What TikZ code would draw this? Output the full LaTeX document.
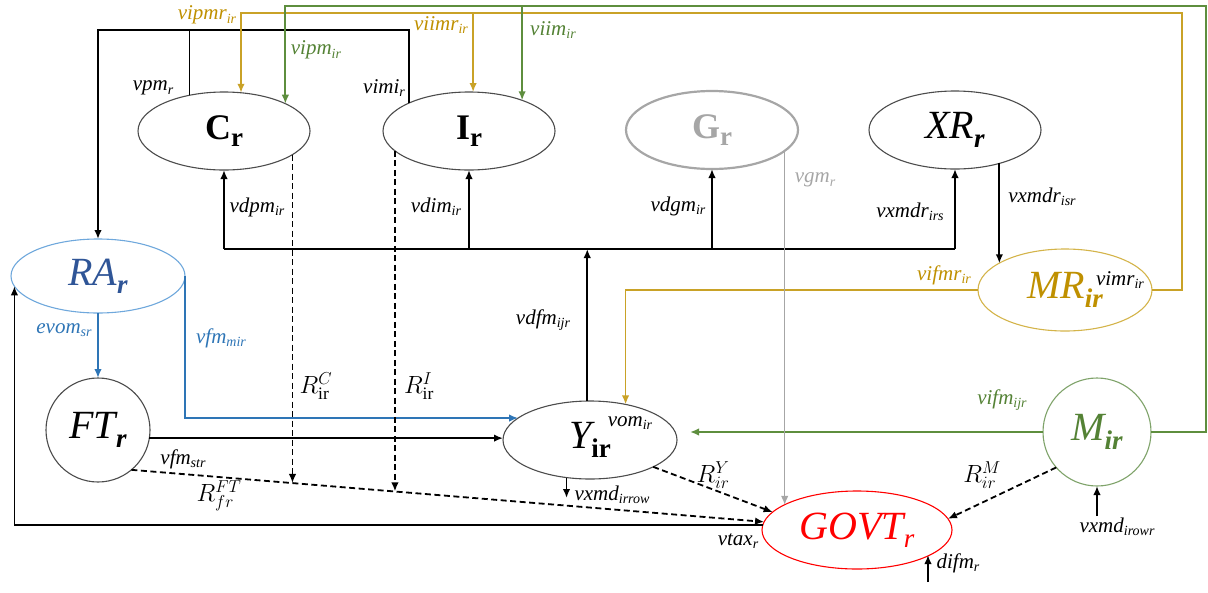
\documentclass[tikz,border=0pt]{standalone}
\usepackage{fontspec}
\setmainfont{Liberation Serif}
\usetikzlibrary{arrows.meta,shapes.geometric,calc}

\definecolor{gold}{HTML}{C9A227}
\definecolor{goldtxt}{HTML}{BF9000}
\definecolor{gline}{HTML}{5E8E3E}
\definecolor{gtxt}{HTML}{548235}
\definecolor{bline}{HTML}{2E75B6}
\definecolor{ratxt}{HTML}{2F5597}
\definecolor{rastroke}{HTML}{6FA8DC}
\definecolor{govt}{HTML}{FF0000}
\definecolor{grayc}{HTML}{A6A6A6}
\definecolor{mrstroke}{HTML}{D4B44A}
\definecolor{mstroke}{HTML}{7FA36A}

% label with italic subscript
\newcommand\lb[2]{\textit{#1}\raisebox{-0.35ex}{\fontsize{14}{14}\selectfont\textit{#2}}}
% node title with lowered subscript
\newcommand\nd[2]{#1\raisebox{-0.45ex}{\fontsize{27}{27}\selectfont #2}}

\tikzset{
  box/.style={draw=black!70, line width=1.1pt, fill=white, inner sep=0pt, outer sep=0pt},
  ell/.style={box, ellipse, minimum width=172pt, minimum height=78pt},
  circ/.style={box, circle},
  conn/.style={line width=1.8pt, line join=miter},
  arr/.style={conn, -{Latex[length=9pt,width=7.5pt]}},
  dsh/.style={arr, dash pattern=on 6pt off 3.5pt},
  lab/.style={font=\fontsize{21}{24}\selectfont, inner sep=0pt},
  rlab/.style={font=\fontsize{25}{28}\selectfont, inner sep=0pt},
  big/.style={font=\fontsize{40}{44}\selectfont},
  bigb/.style={font=\fontsize{36}{40}\selectfont\bfseries},
}

\begin{document}
\begin{tikzpicture}[x=1pt,y=-1pt]
\useasboundingbox (0,0) rectangle (1208,592);

% nodes
\node[ell, bigb] (C) at (224,131) {\nd{C}{r}};
\node[ell, bigb] (I) at (469,131) {\nd{I}{r}};
\node[ell, bigb, draw=grayc, line width=2.2pt, text=grayc] (G) at (712,130) {\nd{G}{r}};
\node[ell, big] (XR) at (955,130) {\itshape\nd{XR}{\bfseries r}};
\node[ell, big, minimum width=174pt, minimum height=74pt, draw=rastroke, text=ratxt] (RA) at (98,276) {\itshape\nd{RA}{\bfseries r}};
\node[circ, big, minimum size=104pt] (FT) at (98,430) {\itshape\nd{FT}{\bfseries r}};
\node[ell, big, minimum width=174pt] (Y) at (590,440) {\itshape\nd{Y}{\upshape\bfseries ir}};
\node[ell, big, minimum width=174pt, minimum height=82pt, draw=mrstroke, text=goldtxt] (MR) at (1065,290) {\itshape\nd{MR}{\bfseries ir}};
\node[circ, big, minimum size=108pt, draw=mstroke, text=gtxt] (M) at (1097,432) {\itshape\nd{M}{\bfseries ir}};
\node[ell, big, minimum width=190pt, minimum height=78pt, draw=govt, text=govt] (GOVT) at (857,530) {\itshape\nd{GOVT}{r}};

% helper coordinates
\coordinate (tb) at (0,30);
\coordinate (gy) at (1182,13);
\coordinate (gg) at (1206,6);
\coordinate (bus) at (0,249);
\coordinate (ytip) at (690,432);
\coordinate (vxe) at (566,498);
\coordinate (mb) at (1097,516);
\coordinate (db) at (928,582);

% black loop from C and I into RA
\draw[conn] (C.134.5) -- (C.134.5 |- tb);
\draw[arr] (I.155.7) |- (RA.north |- tb) -- (RA.north);

% gold flows out of MR
\draw[arr, color=gold] (MR.east) -| (gy) -| (C.66);
\draw[arr, color=gold] (I.84 |- gy) -- (I.84);
\draw[arr, color=gold] (MR.west) -| (Y.45.6);

% green flows out of M
\draw[arr, color=gline] (M.east) -| (gg) -| (C.24.3);
\draw[arr, color=gline] (I.30.1 |- gg) -- (I.30.1);
\draw[arr, color=gline] (M.west) -- (ytip);

% domestic bus
\draw[conn] (C.south |- bus) -- (XR.south |- bus);
\draw[arr] (C.south |- bus) -- (C.south);
\draw[arr] (I.south |- bus) -- (I.south);
\draw[arr] (G.south |- bus) -- (G.south);
\draw[arr] (XR.south |- bus) -- (XR.south);
\draw[arr] (Y.94) -- (Y.94 |- bus);

% XR to MR
\draw[arr] (XR.-37.4) -- (XR.-37.4 |- MR.158.6);

% G to GOVT
\draw[arr, color=grayc, line width=1.5pt] (G.-16.5) -- (G.-16.5 |- GOVT.161);

% RA flows
\draw[arr, color=bline] (RA.south) -- (FT.north);
\draw[arr, color=bline] (RA.east) |- (Y.163);
\draw[arr] (GOVT.177) -| (RA.-173.5);

% FT to Y
\draw[arr] (FT.-9) -- (FT.-9 -| Y.west);

% tax flows (dashed)
\draw[dsh] (FT.-50) -- (GOVT.175.2);
\coordinate (pc) at ($(FT.-50)!0.2526!(GOVT.175.2)$);
\coordinate (pi) at ($(FT.-50)!0.4143!(GOVT.175.2)$);
\draw[dsh] (C.-19.4) -- (C.-19.4 |- pc);
\draw[dsh] (I.-165.7) -- (I.-165.7 |- pi);
\draw[dsh] (Y.-23.8) -- (GOVT.168.7);
\draw[dsh] (M.-139) -- (GOVT.7.7);

% small outflows / inflows
\draw[arr] (Y.-122.6) -- (Y.-122.6 |- vxe);
\draw[arr] (mb) -- (M.south);
\draw[arr] (db) -- (db |- GOVT.-19.5);

% labels
\node[lab, text=goldtxt] (l1) at (207,15) {\lb{vipmr}{ir}};
\node[lab, text=goldtxt] (l2) at (441,25) {\lb{viimr}{ir}};
\node[lab, text=goldtxt] (l3) at (944,275) {\lb{vifmr}{ir}};
\node[lab, text=gtxt] (l4) at (316,50) {\lb{vipm}{ir}};
\node[lab, text=gtxt] (l5) at (553,30) {\lb{viim}{ir}};
\node[lab, text=gtxt] (l6) at (1002,400) {\lb{vifm}{ijr}};
\node[lab] (l7) at (153,88) {\lb{vpm}{r}};
\node[lab] (l8) at (384,88) {\lb{vimi}{r}};
\node[lab] (l9) at (257,207) {\lb{vdpm}{ir}};
\node[lab] (l10) at (436,207) {\lb{vdim}{ir}};
\node[lab] (l11) at (678,206) {\lb{vdgm}{ir}};
\node[lab] (l12) at (910,212) {\lb{vxmdr}{irs}};
\node[lab] (l13) at (1042,197) {\lb{vxmdr}{isr}};
\node[lab] (l14) at (1120,280) {\lb{vimr}{ir}};
\node[lab] (l15) at (543,320) {\lb{vdfm}{ijr}};
\node[lab] (l16) at (183,459) {\lb{vfm}{str}};
\node[lab] (l17) at (630,423) {\lb{vom}{ir}};
\node[lab] (l18) at (612,495) {\lb{vxmd}{irrow}};
\node[lab] (l19) at (738,541) {\lb{vtax}{r}};
\node[lab] (l20) at (958,563) {\lb{difm}{r}};
\node[lab] (l21) at (1117,527) {\lb{vxmd}{irowr}};
\node[lab, text=grayc] (l22) at (815,180) {\lb{vgm}{r}};
\node[lab, text=bline] (l23) at (64,330) {\lb{evom}{sr}};
\node[lab, text=bline] (l24) at (221,338) {\lb{vfm}{mir}};
\node[rlab] (r1) at (316,386) {$R^{C}_{\mathrm{ir}}$};
\node[rlab] (r2) at (419,386) {$R^{I}_{\mathrm{ir}}$};
\node[rlab] (r3) at (219,496) {$R^{FT}_{fr}$};
\node[rlab] (r4) at (713,475) {$R^{Y}_{ir}$};
\node[rlab] (r5) at (982,475) {$R^{M}_{ir}$};
\end{tikzpicture}
\end{document}
